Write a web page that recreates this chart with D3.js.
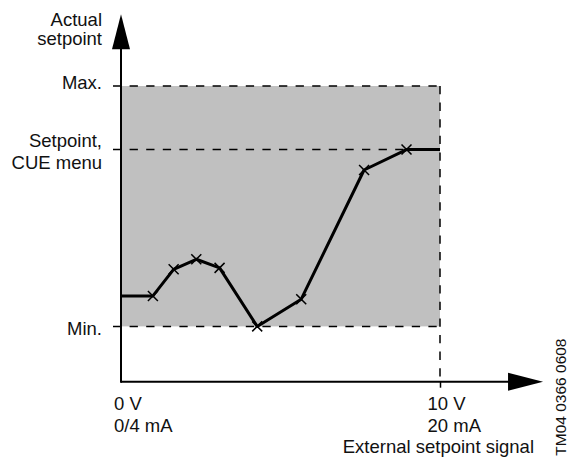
<!DOCTYPE html>
<html>
<head>
<meta charset="utf-8">
<script src="https://cdn.jsdelivr.net/npm/d3@7/dist/d3.min.js"></script>
<style>
  html, body { margin: 0; padding: 0; background: #fff; }
  svg { display: block; }
  text { font-family: "Liberation Sans", Arial, sans-serif; fill: #111; }
</style>
</head>
<body>
<svg id="chart" width="568" height="462"></svg>
<script>
// ---- data (x: external signal in V, y: actual setpoint in % of axis height) ----
const levelNames  = ["Min.", "Setpoint,\nCUE menu", "Max."];
const levelValues = [18.7, 78.5, 100];
const signalMax   = 10;                       // 10 V / 20 mA
const xTickLabels = [["0 V", "0/4 mA"], ["10 V", "20 mA"]];
const xTickValues = [0, 10];
const curveX = [0, 1.0, 1.65, 2.36, 3.09, 4.27, 5.65, 7.62, 8.95, 10];
const curveY = [29.0, 29.0, 38.0, 41.4, 38.5, 18.7, 27.9, 71.6, 78.5, 78.5];
const markerIdx = [1, 2, 3, 4, 5, 6, 7, 8];
const yAxisTitle = ["Actual", "setpoint"];
const xAxisTitle = "External setpoint signal";
const docCode = "TM04 0366 0608";
const xAxisExtent = [0, 13.23];   // axis line incl. arrow
const yAxisExtent = [0, 124.3];

// ---- layout ----
const svg = d3.select("#chart");
const x = d3.scaleLinear().domain([0, signalMax]).range([121, 440]);
const y = d3.scaleLinear().domain([0, 100]).range([381.7, 86]);
const FS = 18.5;

// shaded allowed band
const yMin = levelValues[0], yMax = levelValues[2];
svg.append("rect")
  .attr("x", x(0)).attr("y", y(yMax))
  .attr("width", x(signalMax) - x(0)).attr("height", y(yMin) - y(yMax))
  .attr("fill", "#c0c0c0");

// dashed level lines
const dash = "8.3,8.3";
svg.selectAll("line.level").data(levelValues).join("line")
  .attr("class", "level")
  .attr("x1", x(0) - 8).attr("x2", x(signalMax))
  .attr("y1", d => y(d)).attr("y2", d => y(d))
  .attr("stroke", "#000").attr("stroke-width", 1.5)
  .attr("stroke-dasharray", dash);

// right dashed boundary at 10 V
svg.append("line")
  .attr("x1", x(signalMax)).attr("x2", x(signalMax))
  .attr("y1", y(yMax)).attr("y2", y(0))
  .attr("stroke", "#000").attr("stroke-width", 1.5)
  .attr("stroke-dasharray", dash);

// x axis with tick at 10 V
const xAxis = d3.axisBottom(x).tickValues([signalMax]).tickSizeInner(6).tickSizeOuter(0).tickFormat("");
const gx = svg.append("g").attr("transform", `translate(0,${y(0)})`).call(xAxis);
gx.select(".domain").remove();
gx.selectAll(".tick line").attr("stroke", "#000").attr("stroke-width", 1.5);

// axis lines
const xEnd = x(xAxisExtent[1]);
const yEnd = y(yAxisExtent[1]);
svg.append("line")
  .attr("x1", x(0)).attr("x2", xEnd - 30).attr("y1", y(0)).attr("y2", y(0))
  .attr("stroke", "#000").attr("stroke-width", 2);
svg.append("line")
  .attr("x1", x(0)).attr("x2", x(0)).attr("y1", y(0) + 1).attr("y2", yEnd + 30)
  .attr("stroke", "#000").attr("stroke-width", 2);
// arrowheads
svg.append("path")
  .attr("d", `M${xEnd},${y(0)} L${xEnd - 35},${y(0) - 9} L${xEnd - 35},${y(0) + 9} Z`)
  .attr("fill", "#000");
svg.append("path")
  .attr("d", `M${x(0)},${yEnd} L${x(0) - 9},${yEnd + 35} L${x(0) + 9},${yEnd + 35} Z`)
  .attr("fill", "#000");

// curve
const pts = curveX.map((d, i) => [d, curveY[i]]);
svg.append("path")
  .datum(pts)
  .attr("d", d3.line().x(d => x(d[0])).y(d => y(d[1])))
  .attr("fill", "none").attr("stroke", "#000").attr("stroke-width", 3)
  .attr("stroke-linejoin", "round");

// X markers
const m = 5;
svg.selectAll("path.mk").data(markerIdx.map(i => pts[i])).join("path")
  .attr("class", "mk")
  .attr("d", d => {
    const cx = x(d[0]), cy = y(d[1]);
    return `M${cx - m},${cy - m}L${cx + m},${cy + m}M${cx - m},${cy + m}L${cx + m},${cy - m}`;
  })
  .attr("stroke", "#000").attr("stroke-width", 1.5).attr("fill", "none");

// y labels
const labelRight = x(0) - 19;
const yOffsets = [8.5, -2.5, 3.3];
levelNames.forEach((name, i) => {
  const lines = name.split("\n");
  const t = svg.append("text").attr("text-anchor", "end").attr("font-size", FS)
    .attr("x", labelRight).attr("y", y(levelValues[i]) + yOffsets[i]);
  lines.forEach((ln, j) => t.append("tspan").attr("x", labelRight).attr("dy", j === 0 ? 0 : 22).text(ln));
});

// y axis title
const yt = svg.append("text").attr("text-anchor", "end").attr("font-size", FS)
  .attr("x", labelRight).attr("y", 25.7);
yAxisTitle.forEach((ln, j) => yt.append("tspan").attr("x", labelRight).attr("dy", j === 0 ? 0 : 19.5).text(ln));

// x tick labels
xTickValues.forEach((v, i) => {
  const tx = x(v) - (i === 0 ? 7 : 12.5);
  const t = svg.append("text").attr("font-size", FS).attr("x", tx).attr("y", y(0) + 28.5);
  xTickLabels[i].forEach((ln, j) => t.append("tspan").attr("x", tx).attr("dy", j === 0 ? 0 : 21.7).text(ln));
});

// x axis title
svg.append("text").attr("font-size", FS).attr("text-anchor", "end")
  .attr("x", 534).attr("y", y(0) + 71.5).text(xAxisTitle);

// document code, rotated
svg.append("text").attr("font-size", 15.5).attr("text-anchor", "end")
  .attr("transform", `translate(565.5,338.5) rotate(-90)`).text(docCode);
</script>
</body>
</html>
